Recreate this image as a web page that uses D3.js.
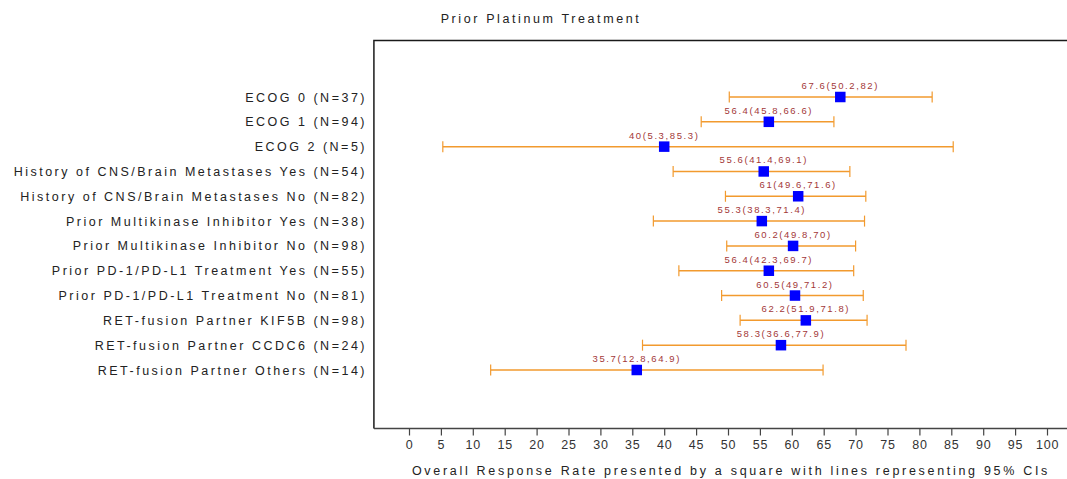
<!DOCTYPE html>
<html>
<head>
<meta charset="utf-8">
<script src="https://cdn.jsdelivr.net/npm/d3@7"></script>
<style>
  html, body { margin: 0; padding: 0; background: #fff; }
  svg { display: block; }
  text { font-family: "Liberation Sans", Arial, sans-serif; }
</style>
</head>
<body>
<svg id="chart" width="1067" height="479"></svg>
<script>
const title = "Prior Platinum Treatment";
const xTitle = "Overall Response Rate presented by a square with lines representing 95% CIs";
const categories = [
  "ECOG 0 (N=37)",
  "ECOG 1 (N=94)",
  "ECOG 2 (N=5)",
  "History of CNS/Brain Metastases Yes (N=54)",
  "History of CNS/Brain Metastases No (N=82)",
  "Prior Multikinase Inhibitor Yes (N=38)",
  "Prior Multikinase Inhibitor No (N=98)",
  "Prior PD-1/PD-L1 Treatment Yes (N=55)",
  "Prior PD-1/PD-L1 Treatment No (N=81)",
  "RET-fusion Partner KIF5B (N=98)",
  "RET-fusion Partner CCDC6 (N=24)",
  "RET-fusion Partner Others (N=14)"
];
const orr   = [67.6, 56.4, 40, 55.6, 61, 55.3, 60.2, 56.4, 60.5, 62.2, 58.3, 35.7];
const lower = [50.2, 45.8, 5.3, 41.4, 49.6, 38.3, 49.8, 42.3, 49, 51.9, 36.6, 12.8];
const upper = [82, 66.6, 85.3, 69.1, 71.6, 71.4, 70, 69.7, 71.2, 71.8, 77.9, 64.9];
const tickValues = d3.range(0, 101, 5);

const svg = d3.select("#chart");
const W = 1067, H = 479;

const x = d3.scaleLinear().domain([0, 100]).range([409, 1047]);
const y = d3.scalePoint().domain(categories).range([97, 370]);

const boxLeft = x(-5.5), boxTop = 40.5, boxBottom = 428.5;

// title
svg.append("text")
  .attr("x", 541).attr("y", 23)
  .attr("text-anchor", "middle")
  .attr("font-size", 12.5)
  .attr("letter-spacing", 2.6)
  .attr("fill", "#222")
  .text(title);

// frame (top + left), bottom via axis
svg.append("path")
  .attr("d", `M${W + 2},${boxTop}H${boxLeft}V${boxBottom}`)
  .attr("fill", "none")
  .attr("stroke", "#1a1a1a")
  .attr("stroke-width", 1.5);

// axis
const axis = d3.axisBottom(x).tickValues(tickValues).tickSize(7).tickPadding(5).tickSizeOuter(0);
const gx = svg.append("g").attr("transform", `translate(0,${boxBottom})`).call(axis);
gx.select(".domain").remove();
gx.append("line").attr("x1", boxLeft).attr("x2", W + 2).attr("stroke", "#444").attr("stroke-width", 1.5);
gx.selectAll(".tick line").attr("stroke", "#444").attr("stroke-width", 1.2);
gx.selectAll(".tick text")
  .attr("font-size", 12.5)
  .attr("font-family", "'Liberation Sans', Arial, sans-serif")
  .attr("letter-spacing", 0.8)
  .attr("fill", "#333");

// x title
svg.append("text")
  .attr("x", 731).attr("y", 475)
  .attr("text-anchor", "middle")
  .attr("font-size", 12.5)
  .attr("letter-spacing", 2.7)
  .attr("fill", "#222")
  .text(xTitle);

// category labels
svg.append("g").selectAll("text")
  .data(categories)
  .join("text")
  .attr("x", 367)
  .attr("y", d => y(d) + 4.5)
  .attr("text-anchor", "end")
  .attr("font-size", 12.5)
  .attr("letter-spacing", 2.5)
  .attr("fill", "#222")
  .text(d => d);

const rows = categories.map((c, i) => ({c, v: orr[i], lo: lower[i], hi: upper[i]}));
const ciColor = "#f29a2e";
const capH = 5.5;

const g = svg.append("g");
g.selectAll("line.ci").data(rows).join("line")
  .attr("x1", d => x(d.lo)).attr("x2", d => x(d.hi))
  .attr("y1", d => y(d.c)).attr("y2", d => y(d.c))
  .attr("stroke", ciColor).attr("stroke-width", 1.5);
g.selectAll("line.capL").data(rows).join("line")
  .attr("x1", d => x(d.lo)).attr("x2", d => x(d.lo))
  .attr("y1", d => y(d.c) - capH).attr("y2", d => y(d.c) + capH)
  .attr("stroke", ciColor).attr("stroke-width", 1.2);
g.selectAll("line.capR").data(rows).join("line")
  .attr("x1", d => x(d.hi)).attr("x2", d => x(d.hi))
  .attr("y1", d => y(d.c) - capH).attr("y2", d => y(d.c) + capH)
  .attr("stroke", ciColor).attr("stroke-width", 1.2);

const sq = 10.5;
g.selectAll("rect").data(rows).join("rect")
  .attr("x", d => x(d.v) - sq / 2).attr("y", d => y(d.c) - sq / 2)
  .attr("width", sq).attr("height", sq)
  .attr("fill", "#0000ff");

g.selectAll("text.ann").data(rows).join("text")
  .attr("x", d => x(d.v))
  .attr("y", d => y(d.c) - 8)
  .attr("text-anchor", "middle")
  .attr("font-size", 9.5)
  .attr("letter-spacing", 1.6)
  .attr("fill", "#a33838")
  .text(d => `${d.v}(${d.lo},${d.hi})`);
</script>
</body>
</html>
